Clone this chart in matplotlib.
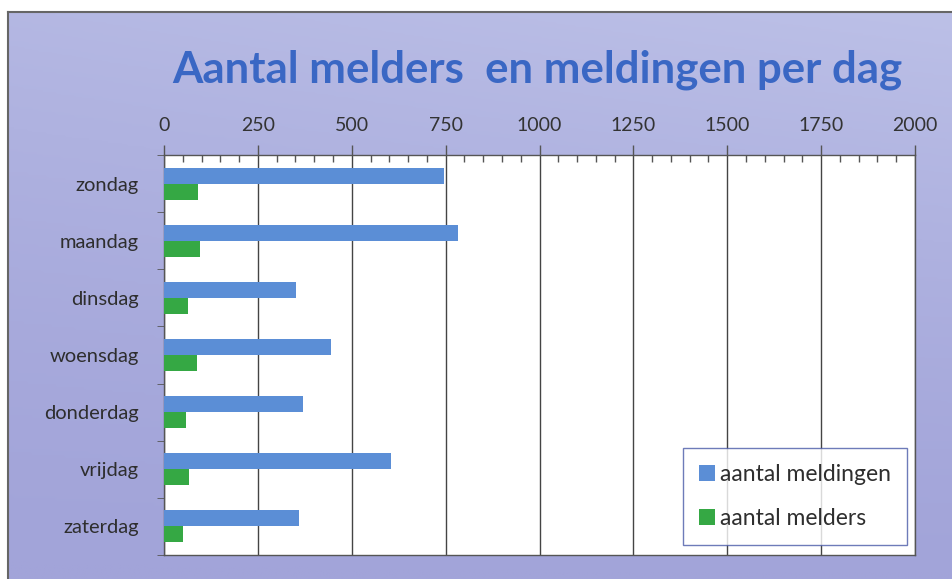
import matplotlib.pyplot as plt
import numpy as np
from matplotlib.colors import LinearSegmentedColormap
from matplotlib.ticker import MultipleLocator, FixedLocator
from matplotlib.lines import Line2D

# data
dagen = ['zondag', 'maandag', 'dinsdag', 'woensdag', 'donderdag', 'vrijdag', 'zaterdag']
meldingen = [747, 783, 351, 444, 371, 605, 360]
melders = [91, 97, 64, 87, 59, 66, 51]
x_ticks = [0, 250, 500, 750, 1000, 1250, 1500, 1750, 2000]

plt.rcParams['font.family'] = ['Lato', 'DejaVu Sans']

fig = plt.figure(figsize=(9.52, 5.79), dpi=100)
fig.patch.set_facecolor('white')

# purple gradient background, lighter towards the top right
bg = fig.add_axes([9 / 952, 0, 1 - 9 / 952, 1 - 13 / 579])
bg.set_axis_off()
yy, xx = np.mgrid[0:1:200j, 0:1:200j]
grad = 0.7 * yy ** 1.5 + 0.3 * xx * yy
cmap = LinearSegmentedColormap.from_list('bg', ['#a2a4d9', '#bcc0e7'])
bg.imshow(grad, cmap=cmap, aspect='auto', origin='lower', extent=[0, 1, 0, 1])
fig.add_artist(Line2D([8 / 952, 8 / 952], [0, 1 - 12 / 579], transform=fig.transFigure,
                      color='#666666', lw=1.5))
fig.add_artist(Line2D([8 / 952, 1], [1 - 12 / 579, 1 - 12 / 579], transform=fig.transFigure,
                      color='#666666', lw=1.5))

ax = fig.add_axes([164 / 952, 1 - 555 / 579, 751 / 952, 400 / 579])
ax.set_facecolor('white')

y = np.arange(len(dagen))
h = 0.28
ax.barh(y - h / 2, meldingen, height=h, color='#5b8ed6', label='aantal meldingen', zorder=3)
ax.barh(y + h / 2, melders, height=h, color='#35a844', label='aantal melders', zorder=3)

ax.set_xlim(0, 2000)
ax.set_ylim(len(dagen) - 0.5, -0.5)
ax.xaxis.tick_top()
ax.set_xticks(x_ticks)
ax.xaxis.set_minor_locator(MultipleLocator(50))
ax.tick_params(axis='x', which='major', direction='out', length=7, width=1, color='#555555',
               labelsize=14, labelcolor='#333333', pad=8)
ax.tick_params(axis='x', which='minor', direction='in', length=5, width=1, color='#555555')
ax.grid(axis='x', which='major', color='#444444', lw=1, zorder=1)

ax.set_yticks(y)
ax.set_yticklabels(dagen)
ax.yaxis.set_minor_locator(FixedLocator(np.arange(-0.5, len(dagen), 1.0)))
ax.tick_params(axis='y', which='major', length=0, labelsize=14.5, labelcolor='#2e2e2e', pad=18)
ax.tick_params(axis='y', which='minor', direction='out', length=5, color='#555555')

for s in ax.spines.values():
    s.set_color('#555555')
    s.set_linewidth(1)

leg = ax.legend(loc='lower right', bbox_to_anchor=(0.989, 0.025), fontsize=16.5,
                frameon=True, fancybox=False, handlelength=0.7, handleheight=0.7,
                handletextpad=0.2, labelspacing=1.0, borderpad=0.7, borderaxespad=0)
leg.get_frame().set_edgecolor('#4a5aa8')
leg.get_frame().set_linewidth(1)
for t in leg.get_texts():
    t.set_color('#2e2e2e')

fig.text(537 / 952, 1 - 70 / 579, 'Aantal melders  en meldingen per dag', ha='center', va='center',
         fontsize=31.5, fontweight='bold', color='#3a67c4')

fig.savefig('out.png', dpi=100)
